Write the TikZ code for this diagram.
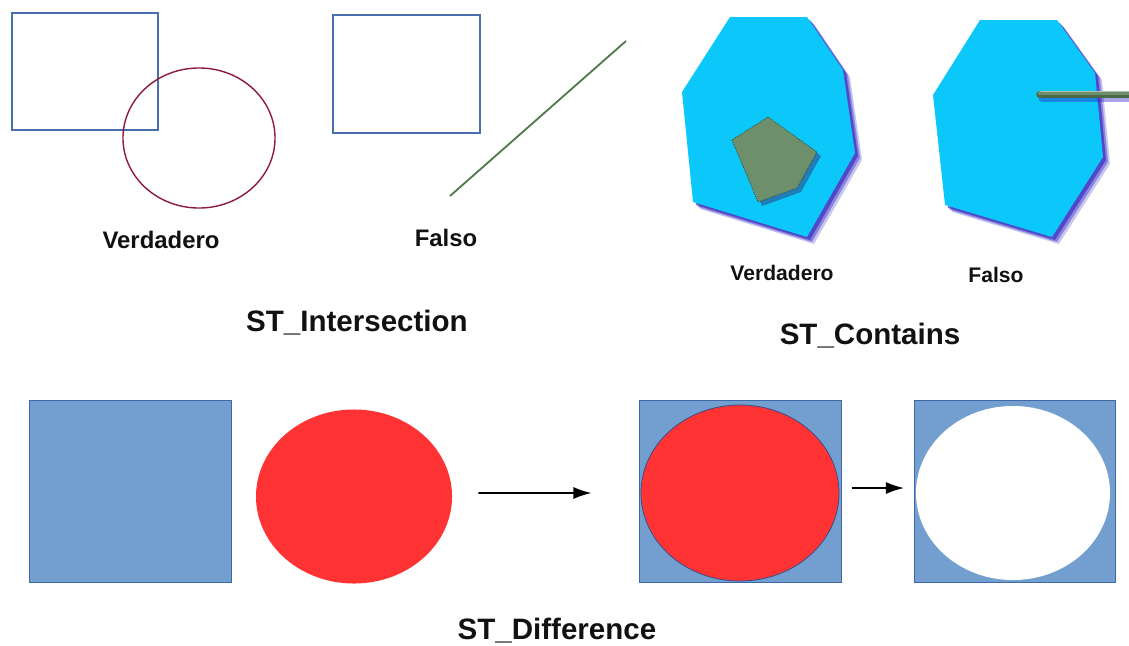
\documentclass[tikz,border=0pt]{standalone}
\usepackage{fontspec}
\setmainfont{Liberation Sans}
\usepackage{tikz}
\usetikzlibrary{arrows.meta, positioning, shapes.geometric}
\definecolor{geoblue}{HTML}{4A6FAE}
\definecolor{geowine}{HTML}{8E1B3C}
\definecolor{geogreen}{HTML}{4F7A4A}
\definecolor{geocyan}{HTML}{0CC8FA}
\definecolor{geoshade}{HTML}{2A1FC0}
\definecolor{geosage}{HTML}{6E8F6B}
\definecolor{geosagedk}{HTML}{2F4A2C}
\definecolor{geofill}{HTML}{729FCF}
\definecolor{geoedge}{HTML}{3F68A6}
\definecolor{geored}{HTML}{FF3333}
\definecolor{geonavy}{HTML}{2D4C8C}
\definecolor{geoink}{HTML}{111111}

\begin{document}
\begin{tikzpicture}[x=0.025cm, y=-0.025cm,
        frame/.style={draw=geoblue, line width=0.9pt, inner sep=0pt},
        ring/.style={ellipse, draw=geowine, line width=1pt, inner sep=0pt},
        tile/.style={fill=geofill, draw=geoedge, line width=0.6pt, inner sep=0pt, minimum width=5.03cm, minimum height=4.55cm},
        blob/.style={ellipse, inner sep=0pt},
        answer/.style={anchor=base, font=\bfseries\fontsize{17}{20}\selectfont, text=geoink},
        smallanswer/.style={anchor=base, font=\bfseries\fontsize{15}{18}\selectfont, text=geoink},
        title/.style={anchor=base, font=\bfseries\fontsize{21}{25}\selectfont, text=geoink},
        hexA/.style={insert path={(730,17) -- (807,17) -- (843,70) -- (855,153) -- (807,237) -- (693,202) -- (682,92) -- cycle}},
        hexB/.style={insert path={(980,20) -- (1057,20) -- (1095,73) -- (1103,157) -- (1052,237) -- (945,205) -- (933,95) -- cycle}},
        penta/.style={insert path={(768,117) -- (817,152) -- (797,188) -- (758,202) -- (732,140) -- cycle}},
        arrow/.style={-{Latex[length=0.45cm, width=0.3cm]}, line width=1.1pt, black}
    ]
        \useasboundingbox (0,0) rectangle (1129,645);

        % ST_Intersection
        \node (boxT) [frame, minimum width=3.65cm, minimum height=2.925cm] at (85,71.5) {};
        \node (ringT) [ring, minimum width=3.8cm, minimum height=3.5cm] at (199,138) {};
        \node (boxF) [frame, minimum width=3.675cm, minimum height=2.95cm] at (406.5,74) {};
        \draw [geogreen, line width=1.3pt] (450,196) -- (626,41);
        \node (trueI) [answer] at (161,248) {Verdadero};
        \node (falseI) [answer] at (446,246) {Falso};
        \node (titleI) [title] at (357,331) {ST\_Intersection};

        % ST_Contains
        \foreach \d/\o in {7/0.25, 5/0.4, 3/0.6} {
            \fill [geoshade, opacity=\o, shift={(\d,\d)}, hexA];
            \fill [geoshade, opacity=\o, shift={(\d,\d)}, hexB];
        }
        \fill [geocyan, hexA];
        \fill [geocyan, hexB];
        \fill [geonavy, opacity=0.6, shift={(4,4)}, penta];
        \filldraw [fill=geosage, draw=geosagedk, densely dotted, line width=0.6pt, penta];
        \draw [geoshade, opacity=0.4, line width=5pt, line cap=round] (1042,98) -- (1135,98);
        \draw [geosagedk!55!geosage, line width=5.5pt, line cap=round] (1040,94.5) -- (1135,94.5);
        \draw [geosage, line width=3.5pt, line cap=round] (1040,93) -- (1135,93);
        \draw [geosage!55!white, line width=1pt, line cap=round] (1041,91.5) -- (1135,91.5);
        \node (trueC) [smallanswer] at (782,280) {Verdadero};
        \node (falseC) [smallanswer] at (996,282) {Falso};
        \node (titleC) [title] at (870,344) {ST\_Contains};

        % ST_Difference
        \node (sqA) [tile] at (130.5,491) {};
        \node (circ) [blob, fill=geored, minimum width=4.9cm, minimum height=4.35cm] at (354,496.5) {};
        \node (diffA) [tile] at (740.5,491) {};
        \node (redA) [blob, fill=geored, draw=geonavy, line width=0.5pt, minimum width=4.95cm, minimum height=4.4cm] at (740,493) {};
        \node (diffB) [tile] at (1015,491) {};
        \node (holeB) [blob, fill=white, minimum width=4.85cm, minimum height=4.35cm] at (1013,493) {};
        \node (titleD) [title] at (557,639) {ST\_Difference};

        \draw [arrow] ([xshift=0.65cm, yshift=0.0875cm]circ.east) -- ([xshift=-1.2cm, yshift=-0.05cm]diffA.west);
        \draw [arrow] ([xshift=0.25cm, yshift=0.075cm]diffA.east) -- ([xshift=-0.25cm, yshift=0.075cm]diffB.west);
\end{tikzpicture}
\end{document}
